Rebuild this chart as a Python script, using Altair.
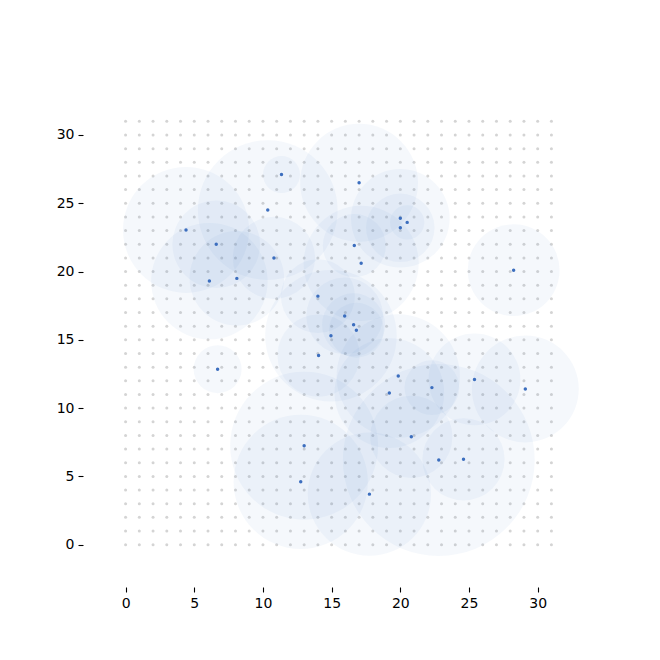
import altair as alt
import pandas as pd

# centres of the sampled points (data units) and the radius of their discs
xs = [4.4, 6.6, 6.1, 8.1, 10.35, 10.8, 11.35, 14.0, 14.95, 14.05, 6.7,
      17.0, 20.0, 20.5, 20.0, 16.65, 17.15, 28.25, 15.95, 16.6, 16.8,
      13.0, 12.75, 19.85, 25.4, 22.3, 29.1, 19.2, 20.8, 22.8, 24.6, 17.75]
ys = [23.05, 22.0, 19.3, 19.5, 24.5, 21.0, 27.1, 18.2, 15.3, 13.85, 12.85,
      26.5, 23.9, 23.6, 23.2, 21.9, 20.6, 20.1, 16.75, 16.1, 15.7,
      7.25, 4.6, 12.35, 12.1, 11.5, 11.4, 11.1, 7.9, 6.2, 6.25, 3.7]
radii = [4.6, 3.2, 4.25, 3.45, 5.1, 3.0, 1.35, 2.7, 4.8, 3.0, 1.75,
         4.3, 3.6, 1.25, 2.5, 2.3, 4.2, 3.35, 2.8, 2.3, 2.0,
         5.4, 4.9, 4.5, 3.35, 2.0, 3.9, 4.0, 3.0, 7.0, 3.0, 4.5]

grid_vals = list(range(0, 32))
tick_vals = [0, 5, 10, 15, 20, 25, 30]
domain = [-3.1, 34.1]
PX_PER_UNIT = 13.7

grid = pd.DataFrame([(gx, gy) for gx in grid_vals for gy in grid_vals],
                    columns=["x", "y"])
pts = pd.DataFrame({"x": xs, "y": ys, "r": radii})

axis_common = dict(values=tick_vals, domain=False, grid=False, ticks=True,
                   tickSize=5, tickColor="black", tickWidth=1.1,
                   labelFont="DejaVu Sans", labelFontSize=14,
                   labelColor="black", labelPadding=4, title=None)

X = alt.X("x:Q", scale=alt.Scale(domain=domain, nice=False, zero=False),
          axis=alt.Axis(labelAngle=0, **axis_common))
Y = alt.Y("y:Q", scale=alt.Scale(domain=domain, nice=False, zero=False),
          axis=alt.Axis(**axis_common))

dots = alt.Chart(grid).mark_circle(size=9, color="#d4d4d4", opacity=1).encode(
    x=X, y=Y)

discs = alt.Chart(pts).transform_calculate(
    s=f"pow(2 * datum.r * {PX_PER_UNIT}, 2)"
).mark_circle(color="#4a7bc4", opacity=0.055).encode(
    x=X, y=Y, size=alt.Size("s:Q", scale=None, legend=None))

centres = alt.Chart(pts).mark_circle(size=12, color="#3c6ebe", opacity=1).encode(
    x=X, y=Y)

chart = alt.layer(dots, discs, centres).properties(
    width=511, height=508,
    autosize=alt.AutoSizeParams(type="none"),
    padding={"left": 75, "top": 71, "right": 58, "bottom": 65},
).configure_view(stroke=None)

chart.save("out.html", embed_options={"renderer": "svg", "actions": False})
